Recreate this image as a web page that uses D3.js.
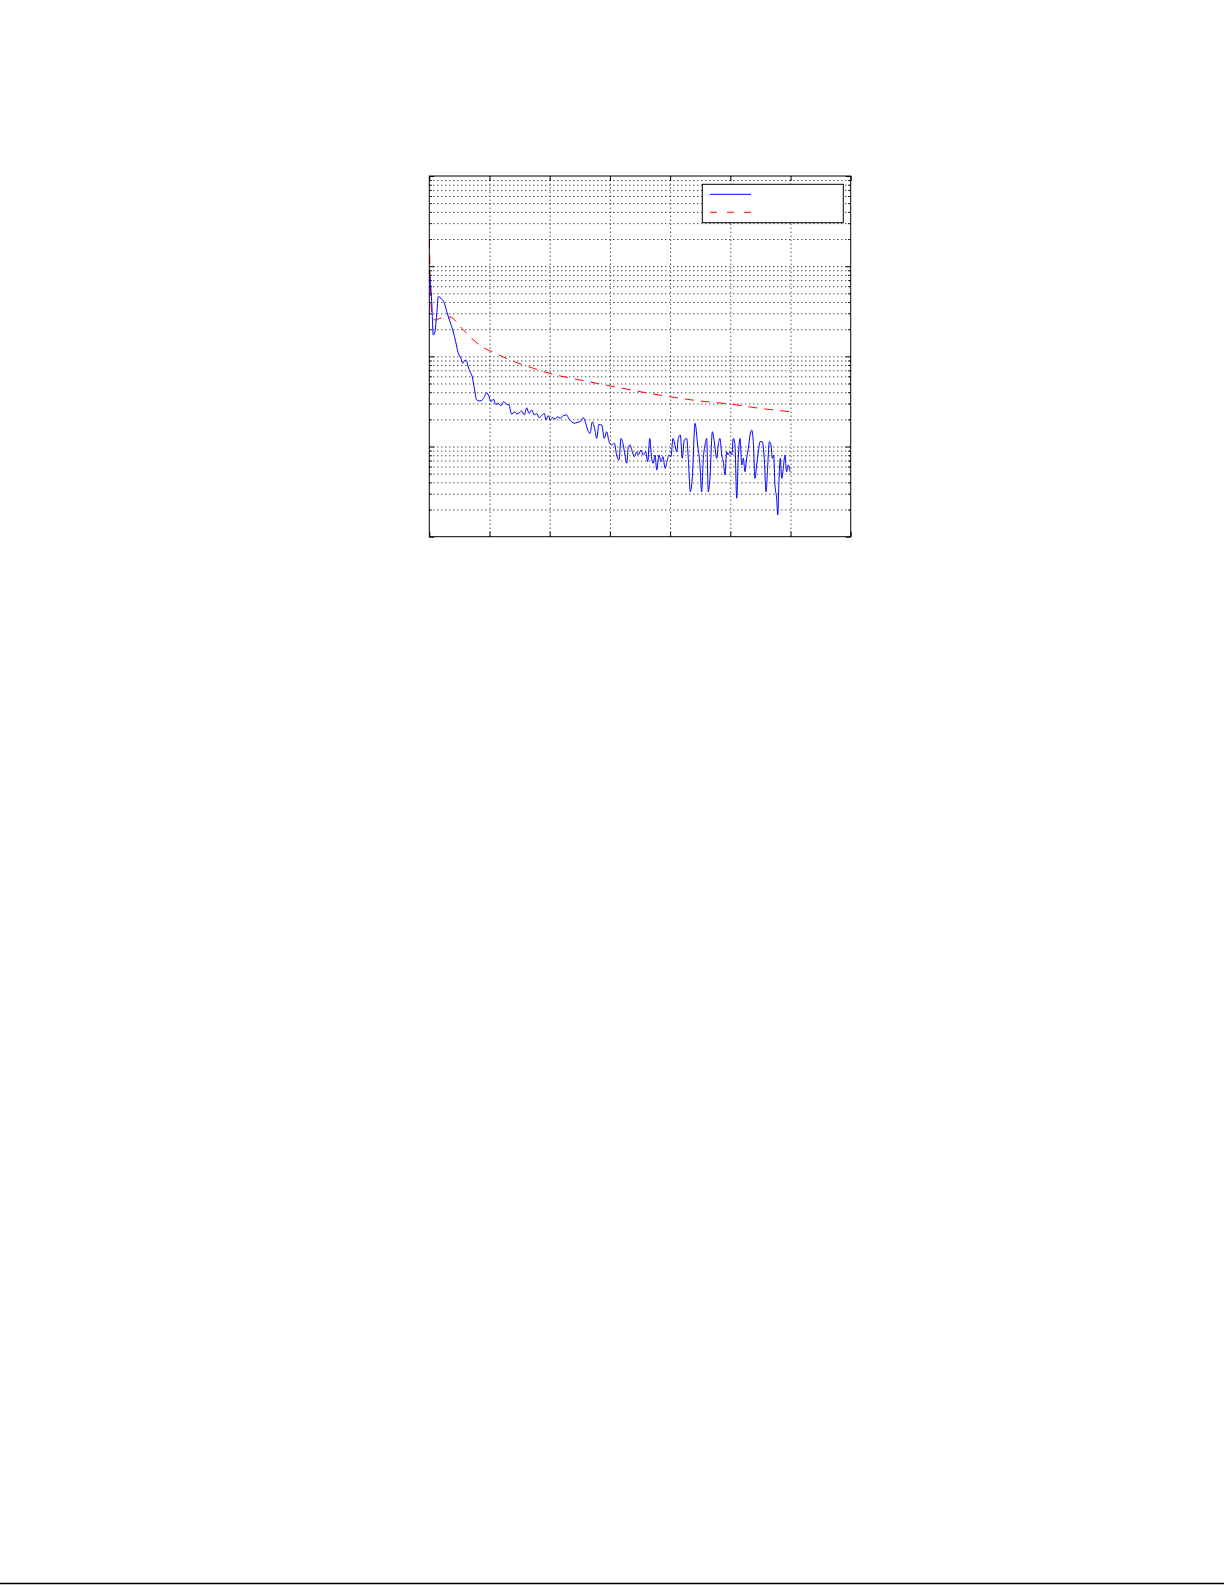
<!DOCTYPE html>
<html>
<head>
<meta charset="utf-8">
<script src="https://cdn.jsdelivr.net/npm/d3@7"></script>
<style>
  body { margin: 0; background: #fff; }
  svg { display: block; }
</style>
</head>
<body>
<div id="chart"></div>
<script>
// measured spectrum (blue, solid)
const blueX = [0, 0.020, 0.033, 0.047, 0.061, 0.075, 0.103, 0.125, 0.145, 0.172,
  0.199, 0.219, 0.241, 0.263, 0.277, 0.297, 0.311, 0.319, 0.338, 0.357,
  0.374, 0.394, 0.421, 0.440, 0.457, 0.477, 0.496, 0.512, 0.532, 0.551,
  0.573, 0.596, 0.618, 0.643, 0.662, 0.684, 0.706, 0.726, 0.748, 0.767,
  0.789, 0.809, 0.828, 0.850, 0.872, 0.892, 0.911, 0.934, 0.955, 0.969,
  0.988, 1.005, 1.025, 1.044, 1.066, 1.086, 1.113, 1.141, 1.160, 1.183,
  1.204, 1.227, 1.252, 1.279, 1.299, 1.316, 1.335, 1.354, 1.376, 1.390,
  1.409, 1.432, 1.453, 1.473, 1.493, 1.515, 1.537, 1.556, 1.576, 1.592,
  1.611, 1.625, 1.640, 1.653, 1.667, 1.686, 1.703, 1.723, 1.736, 1.758,
  1.777, 1.797, 1.814, 1.831, 1.847, 1.860, 1.875, 1.889, 1.908, 1.924,
  1.941, 1.958, 1.974, 1.991, 2.007, 2.024, 2.040, 2.055, 2.068, 2.085,
  2.101, 2.118, 2.138, 2.151, 2.168, 2.184, 2.207, 2.229, 2.248, 2.262,
  2.276, 2.290, 2.304, 2.317, 2.331, 2.351, 2.367, 2.387, 2.400, 2.414,
  2.429, 2.442, 2.456, 2.470, 2.483, 2.497, 2.512, 2.525, 2.539, 2.553,
  2.566, 2.581, 2.595, 2.608, 2.622, 2.636, 2.650, 2.664, 2.678, 2.691,
  2.705, 2.719, 2.733, 2.747, 2.766, 2.782, 2.797, 2.811, 2.824, 2.838,
  2.849, 2.860, 2.871, 2.885, 2.894, 2.905, 2.915, 2.927, 2.940, 2.954,
  2.968, 2.982, 2.996];
const blueY = [0.0907, 0.0404, 0.01725, 0.01876, 0.0287, 0.0459, 0.0432, 0.0388, 0.0313, 0.0242,
  0.01876, 0.01453, 0.01081, 0.00951, 0.00837, 0.0091, 0.00887, 0.00801, 0.00676, 0.00595,
  0.00442, 0.00328, 0.0032, 0.00328, 0.00357, 0.00395, 0.00357, 0.00314, 0.00336, 0.00294,
  0.00301, 0.00284, 0.00314, 0.00294, 0.00289, 0.00228, 0.00243, 0.0023, 0.00237, 0.00248,
  0.00224, 0.00269, 0.00233, 0.00254, 0.00224, 0.00233, 0.00209, 0.0022, 0.00233, 0.00197,
  0.0022, 0.00197, 0.00209, 0.00202, 0.00214, 0.00206, 0.0022, 0.00224, 0.00202, 0.00188,
  0.00181, 0.00185, 0.00188, 0.00209, 0.00181, 0.00152, 0.0014, 0.00188, 0.00152, 0.00123,
  0.00176, 0.00173, 0.00123, 0.00146, 0.00113, 0.00104, 0.00109, 0.000805, 0.000708, 0.00123,
  0.00104, 0.000805, 0.000652, 0.000995, 0.00104, 0.000876, 0.000771, 0.000876, 0.000805, 0.000915,
  0.000805, 0.000876, 0.000679, 0.00123, 0.00074, 0.000652, 0.000805, 0.000548, 0.000805, 0.000679,
  0.000771, 0.000573, 0.000679, 0.000805, 0.000771, 0.00123, 0.00104, 0.000876, 0.00123, 0.00134,
  0.00074, 0.00118, 0.00123, 0.00074, 0.000315, 0.000444, 0.00181, 0.00104, 0.000624, 0.000315,
  0.00074, 0.00104, 0.00123, 0.000315, 0.000444, 0.00146, 0.00113, 0.00074, 0.00104, 0.00123,
  0.000805, 0.000679, 0.000483, 0.000876, 0.000805, 0.000876, 0.000805, 0.00123, 0.00104, 0.000267,
  0.00074, 0.00123, 0.000624, 0.00074, 0.000526, 0.00074, 0.000955, 0.00134, 0.00152, 0.00113,
  0.000444, 0.000624, 0.000876, 0.00113, 0.00113, 0.00074, 0.000315, 0.000624, 0.00113, 0.00104,
  0.00074, 0.000805, 0.000374, 0.000267, 0.000174, 0.000444, 0.00074, 0.000444, 0.000573, 0.000805,
  0.000526, 0.000624, 0.000526];

// reference curve (red, dashed)
const redX = [0, 0.01, 0.022, 0.047, 0.097, 0.172, 0.269, 0.352, 0.435, 0.546,
  0.671, 0.85, 0.997, 1.252, 1.507, 1.75, 2.002, 2.248, 2.5, 2.747, 3.0];
const redY = [0.2, 0.0544, 0.0288, 0.0253, 0.0266, 0.0273, 0.0205, 0.01585, 0.0128, 0.0109,
  0.0091, 0.00748, 0.00649, 0.00547, 0.00469, 0.00406, 0.00356, 0.0032, 0.00296, 0.00265, 0.00243];

const xTicks = [0, 0.5, 1, 1.5, 2, 2.5, 3, 3.5];
const yTicks = [1e-4, 1e-3, 1e-2, 1e-1, 1];

const W = 1225, H = 1585;
const margin = { left: 429.3, top: 176, right: W - 850.7, bottom: H - 536.7 };
const width = W - margin.left - margin.right;
const height = H - margin.top - margin.bottom;

const svg = d3.select("#chart").append("svg")
  .attr("width", W)
  .attr("height", H)
  .attr("viewBox", [0, 0, W, H]);

const g = svg.append("g").attr("transform", `translate(${margin.left},${margin.top})`);

const x = d3.scaleLinear().domain([0, 3.5]).range([0, width]);
const y = d3.scaleLog().domain([1e-4, 1]).range([height, 0]);

// minor values 2..9 of each decade
const yMinor = [];
for (let d = 0; d < yTicks.length - 1; d++) {
  for (let k = 2; k <= 9; k++) yMinor.push(yTicks[d] * k);
}

// grid (dotted)
const gridStyle = (sel) => {
  sel.select(".domain").remove();
  sel.selectAll("text").remove();
  sel.selectAll(".tick line")
    .attr("stroke", "#000")
    .attr("stroke-width", 1)
    .attr("stroke-dasharray", "1,3");
};

g.append("g")
  .attr("transform", `translate(0,${height})`)
  .call(d3.axisBottom(x).tickValues(xTicks.slice(1, -1)).tickSize(-height).tickFormat(""))
  .call(gridStyle);

g.append("g")
  .call(d3.axisLeft(y).tickValues(yTicks.slice(1, -1).concat(yMinor)).tickSize(-width).tickFormat(""))
  .call(gridStyle);

// tick marks inward on all four sides
const tickStyle = (sel) => {
  sel.select(".domain").remove();
  sel.selectAll("text").remove();
  sel.selectAll(".tick line").attr("stroke", "#000").attr("stroke-width", 1);
};

g.append("g").attr("transform", `translate(0,${height})`)
  .call(d3.axisBottom(x).tickValues(xTicks).tickSize(-5).tickFormat("")).call(tickStyle);
g.append("g")
  .call(d3.axisTop(x).tickValues(xTicks).tickSize(-5).tickFormat("")).call(tickStyle);
g.append("g")
  .call(d3.axisLeft(y).tickValues(yTicks).tickSize(-5).tickFormat("")).call(tickStyle);
g.append("g").attr("transform", `translate(${width},0)`)
  .call(d3.axisRight(y).tickValues(yTicks).tickSize(-5).tickFormat("")).call(tickStyle);
g.append("g")
  .call(d3.axisLeft(y).tickValues(yMinor).tickSize(-2.5).tickFormat("")).call(tickStyle);
g.append("g").attr("transform", `translate(${width},0)`)
  .call(d3.axisRight(y).tickValues(yMinor).tickSize(-2.5).tickFormat("")).call(tickStyle);

// curves
const line = d3.line()
  .x((d) => x(d[0]))
  .y((d) => y(d[1]))
  .curve(d3.curveMonotoneX);

g.append("path")
  .datum(redX.map((v, i) => [v, redY[i]]))
  .attr("d", line)
  .attr("fill", "none")
  .attr("stroke", "#ff0000")
  .attr("stroke-width", 1)
  .attr("stroke-dasharray", "9,7");

g.append("path")
  .datum(blueX.map((v, i) => [v, blueY[i]]))
  .attr("d", line)
  .attr("fill", "none")
  .attr("stroke", "#0000ff")
  .attr("stroke-width", 1);

// frame
g.append("rect")
  .attr("width", width)
  .attr("height", height)
  .attr("fill", "none")
  .attr("stroke", "#000")
  .attr("stroke-width", 1);

// legend box (labels are blank in the original)
const legend = svg.append("g").attr("transform", "translate(702.3,184.3)");
legend.append("rect")
  .attr("width", 141)
  .attr("height", 38.4)
  .attr("fill", "#fff")
  .attr("stroke", "#000")
  .attr("stroke-width", 1);
legend.append("line")
  .attr("x1", 7.7).attr("x2", 48.7)
  .attr("y1", 10).attr("y2", 10)
  .attr("stroke", "#0000ff").attr("stroke-width", 1);
legend.append("line")
  .attr("x1", 7.7).attr("x2", 48.7)
  .attr("y1", 28).attr("y2", 28)
  .attr("stroke", "#ff0000").attr("stroke-width", 1)
  .attr("stroke-dasharray", "7,10");

// page rule at the very bottom
svg.append("line")
  .attr("x1", 0).attr("x2", 1224)
  .attr("y1", 1583.5).attr("y2", 1583.5)
  .attr("stroke", "#000")
  .attr("stroke-width", 1.5);
</script>
</body>
</html>
